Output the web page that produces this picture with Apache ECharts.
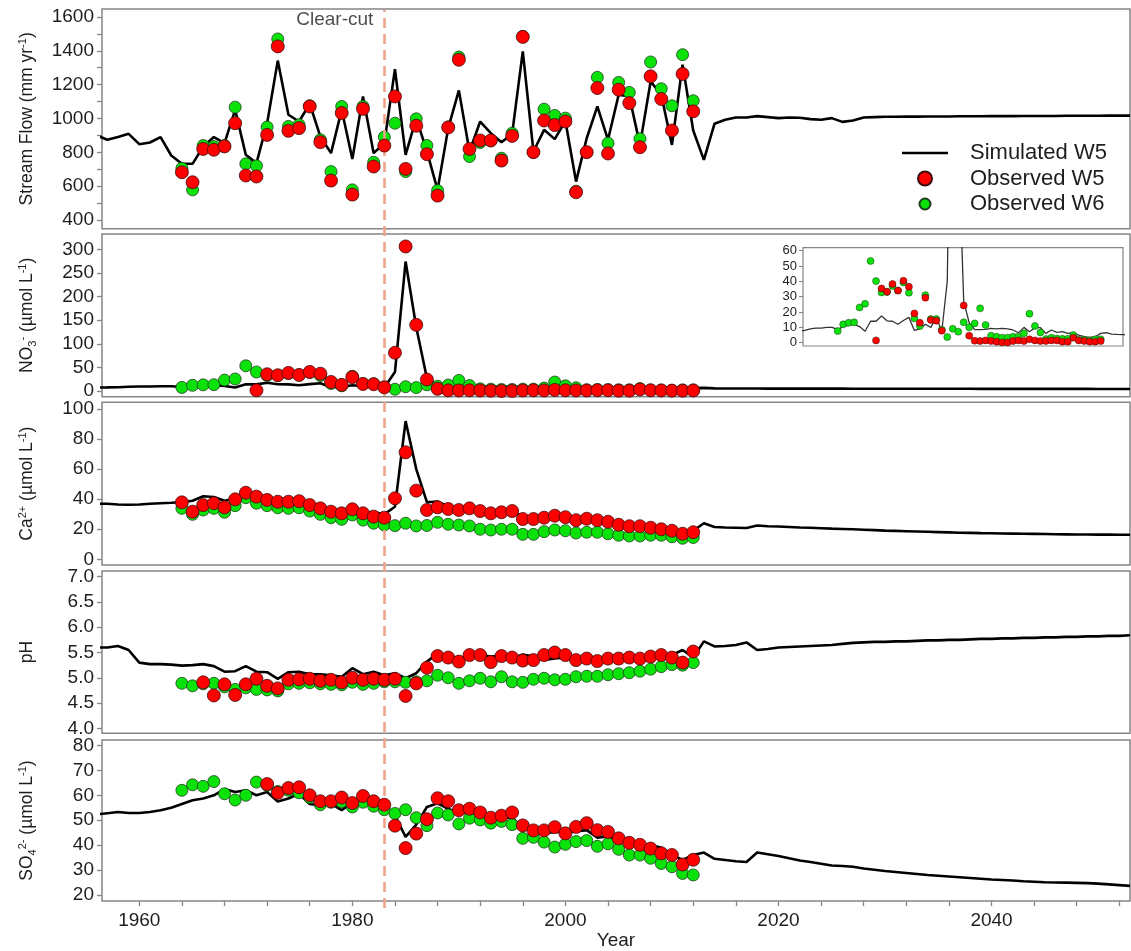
<!DOCTYPE html>
<html>
<head>
<meta charset="utf-8">
<script src="https://cdn.jsdelivr.net/npm/echarts@6/dist/echarts.min.js"></script>
<style>
  html, body { margin: 0; padding: 0; background: #ffffff; }
  #chart { width: 1131px; height: 951px; }
</style>
</head>
<body>
<div id="chart"></div>
<script>
// ---- years ----
function range(a, b) { const r = []; for (let y = a; y <= b; y++) r.push(y); return r; }
const simYears = range(1956, 2053);   // simulated W5 series
const obsYears = range(1964, 2012);   // observed W5 / W6 series
const clearCutYear = 1983;

// ---- stream flow (mm/yr) ----
const flowSim = [
  900, 874, 890, 909, 848, 858, 890, 781, 732, 732,
  834, 890, 854, 1051, 785, 736, 972, 1342, 1022, 982,
  1087, 893, 795, 1051, 761, 1130, 795, 854, 1292, 785,
  1002, 805, 578, 943, 1166, 805, 982, 913, 860, 909,
  1397, 805, 933, 878, 985, 627, 883, 1071, 874, 1140,
  1130, 844, 1219, 1140, 844, 1318, 929, 755, 969, 992,
  1006, 1006, 1014, 1008, 1002, 1006, 1004, 996, 992, 1002,
  980, 988, 1006, 1008, 1010, 1010, 1011, 1011, 1012, 1012,
  1012, 1013, 1013, 1013, 1014, 1014, 1014, 1015, 1015, 1015,
  1015, 1016, 1016, 1016, 1016, 1017, 1017, 1017
];
const flowW5 = [
  682, 623, 820, 815, 835, 972, 663, 657, 903, 1426,
  927, 943, 1071, 860, 633, 1032, 550, 1057, 716, 840,
  1130, 702, 957, 789, 544, 947, 1347, 820, 870, 870,
  751, 897, 1482, 801, 988, 961, 982, 564, 801, 1180,
  793, 1170, 1091, 830, 1249, 1115, 929, 1263, 1042
];
const flowW6 = [
  706, 578, 840, 834, 840, 1067, 732, 720, 949, 1470,
  953, 963, 1075, 874, 686, 1071, 578, 1071, 741, 890,
  972, 686, 998, 840, 574, 950, 1363, 775, 858, 868,
  765, 913, 1485, 800, 1055, 1018, 1002, 570, 800, 1243,
  854, 1213, 1154, 880, 1334, 1176, 1075, 1377, 1105
];

// ---- nitrate (umol/L) ----
const no3Sim = [
  7.5, 7.6, 8, 9, 9.5, 9.5, 10, 10, 8.5, 10.5,
  11.5, 12, 10.5, 7.5, 14, 14, 17.4, 14.3, 14, 12,
  14.5, 16.5, 8, 9, 12, 10, 16.5, 7.5, 40, 274,
  135, 27, 13, 8.5, 8.5, 8.7, 9.3, 9, 9.3, 9,
  8.3, 6.5, 10, 7.2, 9.8, 9.8, 6.1, 8.3, 6.7, 7.2,
  6.1, 6.5, 5, 3.9, 3.5, 3.9, 6.1, 6.5, 5.6, 5.4,
  5.3, 5.2, 5.2, 5.1, 5.1, 5, 5, 5, 4.9, 4.9,
  4.9, 4.8, 4.8, 4.8, 4.7, 4.7, 4.7, 4.7, 4.6, 4.6,
  4.6, 4.6, 4.6, 4.5, 4.5, 4.5, 4.5, 4.5, 4.4, 4.4,
  4.4, 4.4, 4.4, 4.4, 4.3, 4.3, 4.3, 4.3
];
const no3W5 = [
  null, null, null, null, null, null, null, 1.5, 35.4, 33.3,
  38.3, 34, 40.4, 36.5, 19.1, 13, 29.3, 14.8, 14.3, 7.8,
  81, 306, 140, 24.3, 4.6, 1.3, 1.1, 1.5, 1.1, 0.7,
  0.2, 0.2, 1.1, 1.5, 1.1, 2.2, 1.5, 1.1, 1.1, 1.5,
  1.5, 0.7, 0.7, 3.3, 1.5, 1.1, 0.7, 0.7, 1.1
];
const no3W6 = [
  7.6, 12, 13, 13.3, 23, 25.4, 53.3, 40.2, 32.8, 33,
  37, 34, 39.3, 32.6, 15.9, 10.9, 31, 15.4, 15.4, 8.5,
  3.7, 9.1, 7.2, 13.3, 10, 12.6, 22.4, 11.5, 4.6, 3.9,
  3.3, 3.3, 3.9, 3.9, 6.1, 18.9, 10.9, 6.7, 2.4, 3.3,
  2.8, 2.5, 2.5, 5, 2, 2, 1.5, 2.2, 2.2
];

// ---- calcium (umol/L) ----
const caSim = [
  37, 37, 36.5, 36.3, 36.5, 37, 37.3, 37.6, 38, 39,
  42, 41.5, 39, 40.5, 43.5, 41, 39, 38, 38, 38,
  36, 34, 32, 31, 32.5, 31, 31.5, 30, 35, 92,
  60, 38, 38.5, 35, 34, 33, 33, 32, 31, 31,
  29, 28, 28, 28, 27.5, 26.5, 26.5, 26, 25, 24,
  23, 22.5, 22, 21, 20, 19, 19, 24, 21.5, 21.2,
  21, 20.8, 22.5, 22, 21.8, 21.5, 21.2, 21, 20.7, 20.4,
  20.2, 20, 19.7, 19.4, 19.1, 18.9, 18.7, 18.5, 18.3, 18.1,
  17.9, 17.7, 17.6, 17.4, 17.3, 17.2, 17.1, 17, 16.9, 16.8,
  16.7, 16.6, 16.5, 16.5, 16.4, 16.4, 16.3, 16.3
];
const caW5 = [
  37.9, 31.7, 36.1, 37.3, 34.6, 39.9, 44.3, 41.7, 39.5, 38.3,
  38.3, 38.7, 36.1, 33.9, 31.7, 30.6, 33.3, 30.6, 28.4, 27.7,
  40.6, 71.2, 45.7, 32.8, 34.6, 33.5, 32.8, 33.9, 32.1, 30.6,
  31.3, 32.1, 26.8, 26.8, 27.7, 29.0, 28, 26, 27, 26,
  25, 23, 22, 22, 21, 20, 19, 17, 18
];
const caW6 = [
  33.9, 29.9, 32.8, 33.9, 31.3, 35.7, 41, 37.3, 35.7, 34.3,
  33.9, 34.3, 32.1, 29.9, 27.7, 26.6, 29.5, 26.1, 24, 22.8,
  22.4, 24, 22.2, 22.5, 24.6, 23.3, 22.8, 22.2, 20, 19.5,
  20, 20, 16.6, 16.6, 18.4, 19.5, 19, 17.5, 18, 18,
  17, 16, 15.5, 15.5, 16, 16, 15, 14, 14.5
];

// ---- pH ----
const phSim = [
  5.6, 5.6, 5.63, 5.55, 5.3, 5.27, 5.27, 5.26, 5.24, 5.25,
  5.27, 5.23, 5.12, 5.13, 5.23, 5.12, 5.11, 4.98, 5.11, 5.12,
  5.07, 5.07, 5.05, 5.02, 5.19, 5.07, 5.12, 5.05, 5.09, 4.99,
  5.09, 5.32, 5.48, 5.44, 5.38, 5.42, 5.45, 5.42, 5.44, 5.38,
  5.46, 5.42, 5.35, 5.38, 5.4, 5.38, 5.42, 5.38, 5.42, 5.4,
  5.42, 5.43, 5.45, 5.48, 5.45, 5.55, 5.4, 5.72, 5.62, 5.63,
  5.65, 5.7, 5.55, 5.57, 5.6, 5.61, 5.62, 5.63, 5.64, 5.65,
  5.67, 5.69, 5.7, 5.71, 5.71, 5.72, 5.72, 5.73, 5.74, 5.74,
  5.75, 5.75, 5.76, 5.77, 5.77, 5.78, 5.78, 5.79, 5.79, 5.8,
  5.8, 5.81, 5.81, 5.82, 5.82, 5.83, 5.83, 5.84
];
const phW5 = [
  null, null, 4.91, 4.65, 4.87, 4.66, 4.87, 4.98, 4.84, 4.79,
  4.96, 4.97, 4.98, 4.94, 4.96, 4.91, 5.0, 4.96, 4.98, 4.96,
  4.98, 4.64, 4.89, 5.2, 5.43, 5.4, 5.32, 5.45, 5.45, 5.31,
  5.43, 5.4, 5.34, 5.35, 5.45, 5.5, 5.45, 5.35, 5.38, 5.33,
  5.38, 5.38, 5.4, 5.38, 5.42, 5.45, 5.4, 5.3, 5.52
];
const phW6 = [
  4.89, 4.84, 4.88, 4.89, 4.82, 4.77, 4.80, 4.77, 4.76, 4.74,
  4.88, 4.89, 4.90, 4.88, 4.87, 4.86, 4.91, 4.87, 4.89, 4.92,
  4.92, 4.91, 4.92, 4.94, 5.05, 5.0, 4.89, 4.94, 4.99, 4.92,
  5.02, 4.92, 4.91, 4.97, 4.99, 4.96, 4.97, 5.02, 5.03, 5.03,
  5.06, 5.08, 5.1, 5.13, 5.17, 5.22, 5.26, 5.25, 5.3
];

// ---- sulfate (umol/L) ----
const so4Sim = [
  52.3, 52.8, 53.3, 52.9, 52.9, 53.3, 54, 55, 56.5, 58,
  58.7, 60, 62.5, 61.3, 62, 60, 61.3, 57.5, 58.7, 60.6,
  56.5, 55.9, 56.5, 54, 57.2, 57.2, 55.6, 54.4, 51.8, 43.3,
  48.2, 55.3, 56.8, 54.6, 52.7, 53.6, 52, 50.5, 51, 51,
  47, 45, 44.5, 45.5, 45, 45.5, 46, 43, 43.5, 42,
  40.5, 39.8, 39.9, 39, 36, 34, 36, 37, 34.5, 34,
  33.5, 33.2, 37, 36.3, 35.6, 34.7, 33.8, 33.2, 32.5, 31.8,
  31.6, 31.3, 30.6, 30.1, 29.6, 29.2, 28.8, 28.4, 28, 27.7,
  27.4, 27.1, 26.8, 26.5, 26.2, 26, 25.8, 25.5, 25.3, 25.1,
  25, 24.9, 24.8, 24.7, 24.5, 24.2, 23.9, 23.6
];
const so4W5 = [
  null, null, null, null, null, null, null, null, 64.5, 61,
  62.9, 63.2, 60, 57.6, 57.6, 59.1, 56.9, 59.7, 57.6, 56.2,
  47.8, 38.8, 44.6, 50.4, 58.8, 57.6, 54, 54.6, 53.1, 51,
  51.8, 53.1, 47.9, 45.9, 45.9, 47.2, 44.7, 47.3, 48.8, 46,
  45.3, 42.7, 40.9, 40.1, 38.6, 36.7, 36, 32.2, 34.1
];
const so4W6 = [
  62, 64.2, 63.6, 65.5, 60.6, 58.1, 60, 65.3, 64, 61.5,
  62, 61, 59.1, 56.2, 57.2, 57.4, 55.3, 57.2, 55.6, 54.2,
  52.7, 54.2, 51, 47.8, 52.9, 52.1, 48.5, 50.8, 50.1, 48.8,
  49.5, 48.2, 42.7, 43.1, 41.2, 39.2, 40.3, 41.4, 41.8, 39.5,
  40.5, 38.3, 36, 36, 34.7, 32.6, 31.3, 28.6, 28
];

// ---- axis tick labels ----
const yearLabels = [1960, 1980, 2000, 2020, 2040];
const yearTicks = range(0, 23).map(i => 1960 + 4 * i);
const flowLabels = [400, 600, 800, 1000, 1200, 1400, 1600];
const flowTicks = [400, 500, 600, 700, 800, 900, 1000, 1100, 1200, 1300, 1400, 1500, 1600];
const no3Labels = [0, 50, 100, 150, 200, 250, 300];
const caLabels = [0, 20, 40, 60, 80, 100];
const phLabels = [4.0, 4.5, 5.0, 5.5, 6.0, 6.5, 7.0];
const so4Labels = [20, 30, 40, 50, 60, 70, 80];
const insetLabels = [0, 10, 20, 30, 40, 50, 60];

// ---- helpers ----
const FONT = '"Liberation Sans", Arial, sans-serif';
const INK = '#1e1e1e';
const FRAME = '#858585';

function pairs(xs, ys) {
  const out = [];
  xs.forEach((x, i) => { if (ys[i] !== null && ys[i] !== undefined) out.push([x, ys[i]]); });
  return out;
}

const X_MIN = 1956.5, X_MAX = 2053.0;

function xAxisFor(gi, withLabels) {
  return {
    type: 'value', gridIndex: gi, min: X_MIN, max: X_MAX,
    axisLine: { show: false },
    splitLine: { show: false },
    axisTick: withLabels
      ? { show: true, inside: false, length: 5, customValues: yearTicks, lineStyle: { color: FRAME, width: 1.3 } }
      : { show: false },
    axisLabel: withLabels
      ? { show: true, customValues: yearLabels, fontFamily: FONT, fontSize: 19, color: INK, margin: 10,
          formatter: v => String(Math.round(v)) }
      : { show: false },
    name: withLabels ? 'Year' : '',
    nameLocation: 'middle', nameGap: 27,
    nameTextStyle: { fontFamily: FONT, fontSize: 19, color: INK }
  };
}

const nameRich = {
  sup: { fontFamily: FONT, fontSize: 11, lineHeight: 11, verticalAlign: 'top', color: INK },
  sub: { fontFamily: FONT, fontSize: 11, lineHeight: 11, verticalAlign: 'bottom', color: INK }
};

function yAxisFor(gi, min, max, labels, ticks, name, fmt) {
  return {
    type: 'value', gridIndex: gi, min: min, max: max,
    axisLine: { show: false },
    splitLine: { show: false },
    axisTick: { show: true, inside: false, length: 5, customValues: ticks, lineStyle: { color: FRAME, width: 1.3 } },
    axisLabel: {
      show: true, customValues: labels, fontFamily: FONT, fontSize: 19, color: INK, margin: 8,
      formatter: fmt || (v => String(v))
    },
    name: name, nameLocation: 'middle', nameRotate: 90, nameGap: 64,
    nameTextStyle: { fontFamily: FONT, fontSize: 17.5, color: INK, lineHeight: 21, rich: nameRich }
  };
}

function panelGrid(top, height) {
  return { left: 102, width: 1028, top: top, height: height, show: true,
           borderColor: FRAME, borderWidth: 1.5, backgroundColor: 'transparent' };
}

// simulated line + two observed scatter series for one panel
function panelSeries(axisIdx, sim, w5, w6, small) {
  return [
    {
      name: 'Simulated W5', type: 'line', xAxisIndex: axisIdx, yAxisIndex: axisIdx,
      data: pairs(simYears, sim), symbol: 'none', z: 3,
      lineStyle: { color: small ? '#333333' : '#000000', width: small ? 1.3 : 2.6 },
      itemStyle: { color: '#000000' }
    },
    {
      name: 'Observed W6', type: 'scatter', xAxisIndex: axisIdx, yAxisIndex: axisIdx,
      data: pairs(obsYears, w6), symbol: 'circle', symbolSize: small ? 7 : 12, z: 4,
      itemStyle: { color: '#0ae20a', borderColor: '#1d3d1d', borderWidth: small ? 0.5 : 0.8, opacity: 1 }
    },
    {
      name: 'Observed W5', type: 'scatter', xAxisIndex: axisIdx, yAxisIndex: axisIdx,
      data: pairs(obsYears, w5), symbol: 'circle', symbolSize: small ? 7 : 13, z: 5,
      itemStyle: { color: '#ff0000', borderColor: '#3d0d0d', borderWidth: small ? 0.5 : 0.8, opacity: 1 }
    }
  ];
}

const grids = [
  { left: 102, width: 1028, top: 10, height: 898, show: false },   // overlay for the clear-cut marker
  panelGrid(9, 219.7),
  panelGrid(234, 162.7),
  panelGrid(402.3, 162.7),
  panelGrid(571, 162.3),
  panelGrid(740, 168.3),
  { left: 803, width: 320, top: 247.7, height: 98.3, show: true,
    borderColor: FRAME, borderWidth: 1.2, backgroundColor: '#ffffff' }
];

const xAxes = [
  xAxisFor(0, false),
  xAxisFor(1, false),
  xAxisFor(2, false),
  xAxisFor(3, false),
  xAxisFor(4, false),
  xAxisFor(5, true),
  { type: 'value', gridIndex: 6, min: 1957.67, max: 2016.07, axisLine: { show: false },
    axisTick: { show: false }, axisLabel: { show: false }, splitLine: { show: false } }
];

const yAxes = [
  { type: 'value', gridIndex: 0, min: 0, max: 1, show: false },
  yAxisFor(1, 348.5, 1647, flowLabels, flowTicks, 'Stream Flow (mm yr{sup|-1})'),
  yAxisFor(2, -12.1, 332.4, no3Labels, no3Labels, 'NO{sub|3}{sup|-} (µmol L{sup|-1})'),
  yAxisFor(3, -3.8, 104.5, caLabels, caLabels, 'Ca{sup|2+} (µmol L{sup|-1})'),
  yAxisFor(4, 3.901, 7.113, phLabels, phLabels, 'pH', v => v.toFixed(1)),
  yAxisFor(5, 17.5, 82.2, so4Labels, so4Labels, 'SO{sub|4}{sup|2-} (µmol L{sup|-1})'),
  {
    type: 'value', gridIndex: 6, min: -2.15, max: 61.96,
    axisLine: { show: false }, splitLine: { show: false },
    axisTick: { show: true, inside: false, length: 4, customValues: insetLabels, lineStyle: { color: FRAME, width: 1 } },
    axisLabel: { show: true, customValues: insetLabels, fontFamily: FONT, fontSize: 13, color: INK, margin: 6 }
  }
];

const series = [
  {
    type: 'line', xAxisIndex: 0, yAxisIndex: 0, data: [], silent: true, z: 1,
    markLine: {
      silent: true, symbol: ['none', 'none'], label: { show: false },
      lineStyle: { color: '#efa388', width: 2.6, type: [10, 6] },
      data: [{ xAxis: clearCutYear }]
    }
  },
  {
    type: 'scatter', xAxisIndex: 1, yAxisIndex: 1, silent: true, z: 6,
    data: [[clearCutYear, 1584]], symbolSize: 0,
    label: { show: true, position: 'left', distance: 11, formatter: 'Clear-cut',
             fontFamily: FONT, fontSize: 19, color: INK }
  },
  ...panelSeries(1, flowSim, flowW5, flowW6),
  ...panelSeries(2, no3Sim, no3W5, no3W6),
  ...panelSeries(3, caSim, caW5, caW6),
  ...panelSeries(4, phSim, phW5, phW6),
  ...panelSeries(5, so4Sim, so4W5, so4W6),
  ...panelSeries(6, no3Sim, no3W5, no3W6, true)
];

// legend glyphs: a plain stroke for the model line, a smaller disc for W6
const lineGlyph = 'path://M0,0M46,14M0,5.7H46V8.3H0Z';
const smallDisc = 'path://M0,0M14,14M12.5,7A5.5,5.5,0,1,1,1.5,7A5.5,5.5,0,1,1,12.5,7Z';

const chart = echarts.init(document.getElementById('chart'), null, { renderer: 'canvas' });
chart.setOption({
  animation: false,
  backgroundColor: '#ffffff',
  grid: grids,
  xAxis: xAxes,
  yAxis: yAxes,
  legend: {
    orient: 'vertical', left: 897, top: 137,
    itemWidth: 46, itemHeight: 14, itemGap: 3.5, selectedMode: false,
    textStyle: { fontFamily: FONT, fontSize: 22, color: INK, lineHeight: 22, padding: [0, 0, 0, 17] },
    data: [
      { name: 'Simulated W5', icon: lineGlyph, itemStyle: { color: '#000000', borderWidth: 0 } },
      { name: 'Observed W5', icon: 'circle' },
      { name: 'Observed W6', icon: smallDisc }
    ]
  },
  series: series
});
</script>
</body>
</html>
